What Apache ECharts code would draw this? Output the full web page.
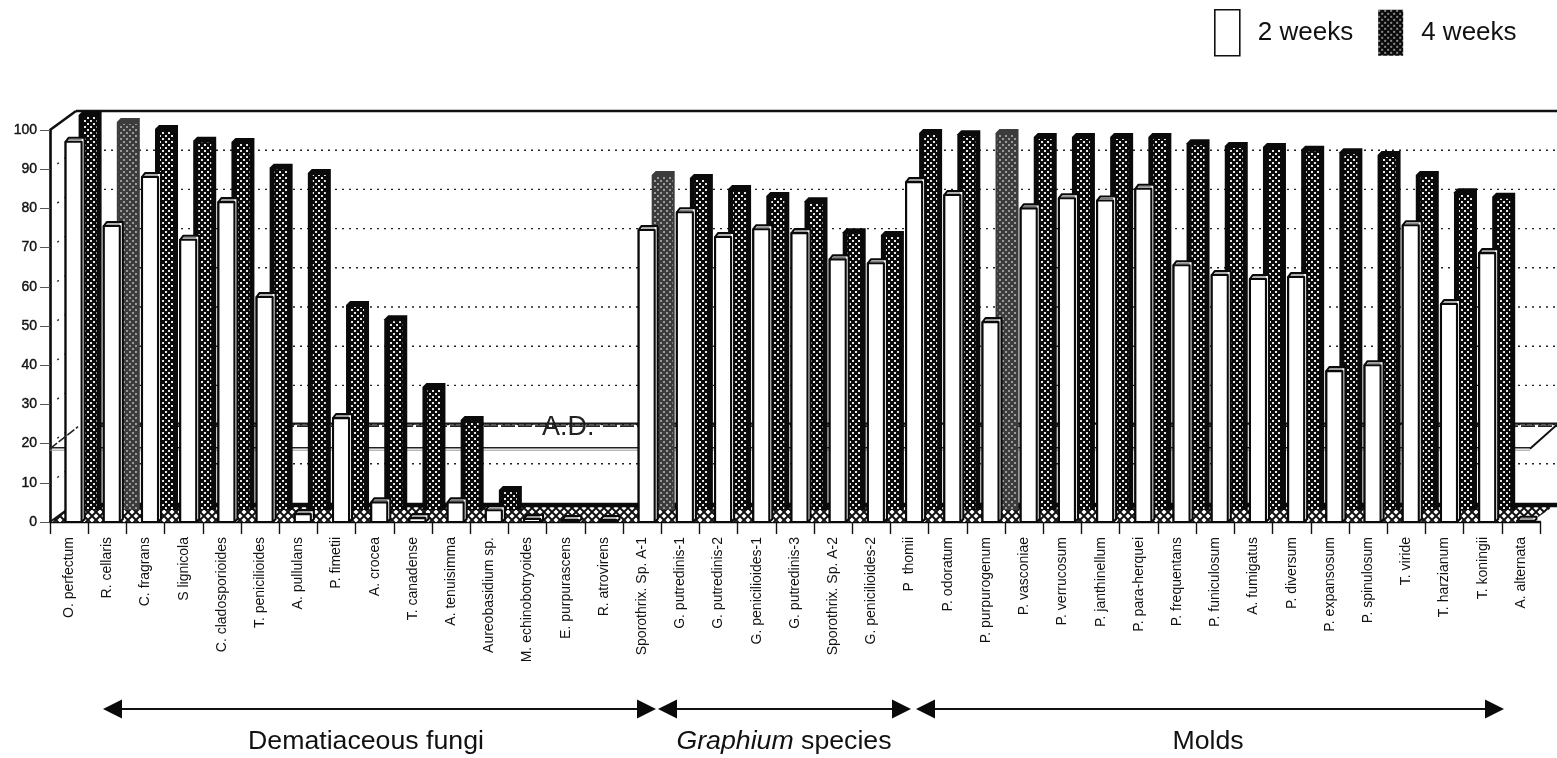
<!DOCTYPE html>
<html><head><meta charset="utf-8">
<style>html,body{margin:0;padding:0;background:#fff}#c{width:1557px;height:758px}</style>
<script src="https://cdn.jsdelivr.net/npm/echarts@6/dist/echarts.min.js"></script>
</head><body><div id="c"></div>
<script>
const categories = ["O. perfectum","R. cellaris","C. fragrans","S lignicola","C. cladosporioides","T. penicilioides","A. pullulans","P. fimetii","A. crocea","T. canadense","A. tenuisimma","Aureobasidium sp.","M. echinobotryoides","E. purpurascens","R. atrovirens","Sporothrix. Sp. A-1","G. putredinis-1","G. putredinis-2","G. penicilioides-1","G. putredinis-3","Sporothrix. Sp. A-2","G. penicilioides-2","P  thomii","P. odoratum","P. purpurogenum","P. vasconiae","P. verrucosum","P. janthinellum","P. para-herquei","P. frequentans","P. funiculosum","A. fumigatus","P. diversum","P. expansosum","P. spinulosum","T. viride","T. harzianum","T. koningii","A. alternata"];
const weeks2 = [97,75.5,88,72,81.6,57.4,2,26.5,5,1,5,3,0.8,0.5,0.5,74.5,79,72.7,74.7,73.7,67,66,86.7,83.4,51,80,82.6,82,85,65.5,63,62,62.5,38.5,40,75.7,55.6,68.6,0.3];
const weeks4 = [101.8,100,98.2,95.2,94.9,88.3,87,53.3,49.7,32.4,24,6.1,0,0,0,86.5,85.7,82.9,81.1,79.8,71.9,71.2,97.2,96.9,97.2,96.2,96.2,96.2,96.2,94.6,93.9,93.6,92.9,92.3,91.6,86.5,82.1,80.9,0];
const grayBars = [1,15,24];
const yTicks = [0,10,20,30,40,50,60,70,80,90,100];
const adLevel = [18.7];
const groups = ["Dematiaceous fungi","Graphium species","Molds"];

function pat(size, bg, draw){
  const c=document.createElement('canvas');c.width=c.height=size;
  const g=c.getContext('2d');g.fillStyle=bg;g.fillRect(0,0,size,size);draw(g);
  return {image:c,repeat:'repeat'};
}
function dots(col){return (g)=>{g.fillStyle=col;g.fillRect(0,0,2,2);g.fillRect(3,3,2,2);};}
const darkPat = pat(6,'#0a0a0a',dots('#e8e8e8'));
const grayPat = pat(6,'#3c3c3c',dots('#9a9a9a'));
const legendPat = pat(6,'#0a0a0a',dots('#8a8a8a'));
const floorPat = pat(8,'#fff',(g)=>{g.strokeStyle='#111';g.lineWidth=2;
  g.beginPath();g.moveTo(0,0);g.lineTo(8,8);g.moveTo(8,0);g.lineTo(0,8);g.stroke();});

const DX=26, DY=19, ADY=24;
const line=(x1,y1,x2,y2,st)=>({type:'line',shape:{x1,y1,x2,y2},style:Object.assign({stroke:'#111',lineWidth:1,fill:null},st||{}),silent:true});
const poly=(points,st)=>({type:'polygon',shape:{points},style:st,silent:true});

function renderFrame(params,api){
  const v=api.value(0);
  const p=api.coord([0,v]);
  const right=params.coordSys.x+params.coordSys.width;
  const x0=params.coordSys.x, endX=1557;
  const ch=[];
  const y=p[1];
  const dot={lineDash:[2,5],lineWidth:1.4,stroke:'#222'};
  if(v===0){
    ch.push(poly([[x0,y],[x0+DX,y-DY+1],[endX,y-DY+1],[right-9,y]],{fill:floorPat,stroke:null}));
    ch.push(line(x0+DX,y-DY+2,endX,y-DY+2,{lineWidth:4.5,stroke:'#0a0a0a'}));
    ch.push(line(x0,y,x0+DX,y-DY,{lineWidth:2,stroke:'#111'}));
  } else if(v===100){
    ch.push(line(x0,y,x0+DX,y-DY,{lineWidth:2.6}));
    ch.push(line(x0+DX,y-DY,endX,y-DY,{lineWidth:2.4}));
  } else {
    ch.push(line(x0+DX,y-DY,endX,y-DY,dot));
    ch.push(line(x0,y,x0+DX,y-DY,{lineDash:[2,7],lineWidth:1.4,stroke:'#222'}));
  }
  return {type:'group',children:ch};
}
function renderAD(params,api){
  const p=api.coord([0,api.value(0)]);
  const x0=params.coordSys.x, right=params.coordSys.x+params.coordSys.width;
  const y=p[1], endX=1557, fx=right-10;
  return {type:'group',children:[
    line(x0,y-1,fx,y-1,{lineWidth:1.6,stroke:'#222'}),
    line(x0,y+1.5,fx,y+1.5,{lineWidth:1,stroke:'#999'}),
    line(x0+DX,y-ADY-1,endX,y-ADY-1,{lineWidth:2.2,stroke:'#1a1a1a'}),
    line(x0+DX,y-ADY+1.5,endX,y-ADY+1.5,{lineWidth:1.8,stroke:'#222',lineDash:[14,3]}),
    line(fx,y,endX,y-ADY,{lineWidth:2,stroke:'#111'})
  ]};
}
function renderAD2(params,api){
  const p=api.coord([0,api.value(0)]);
  const x0=params.coordSys.x,y=p[1];
  return line(x0,y,x0+DX+2,y-ADY+2,{lineWidth:1.6,stroke:'#222',lineDash:[9,2]});
}
function render4(params,api){
  const i=api.value(0),v=api.value(1);
  if(v<=0) return null;
  const p=api.coord([i,v]),b=api.coord([i,0]);
  const L=p[0]+9.5,R=L+23,top=p[1]-12,base=b[1]-12;
  const gray=grayBars.includes(i);
  const edge=gray?'#3c3c3c':'#0a0a0a';
  const ch=[poly([[L,base],[L,top+4],[L+4,top],[R,top],[R,base]],{fill:edge,stroke:null})];
  const fTop=top+6;
  if(base>fTop) ch.push({type:'rect',shape:{x:L+(gray?2:5),y:fTop,width:gray?19:13,height:base-fTop},style:{fill:gray?grayPat:darkPat},silent:true});
  return {type:'group',children:ch};
}
function render2(params,api){
  const i=api.value(0),v=api.value(1);
  const p=api.coord([i,v]),b=api.coord([i,0]);
  const L=p[0]-3.5,W=16,R=L+W,top=p[1],base=b[1];
  const st={fill:'#fff',stroke:'#0a0a0a',lineWidth:2.1,lineJoin:'round'};
  return {type:'group',children:[
    poly([[L,base],[L,top],[L+3,top-4],[R+3,top-4],[R+3,base-3],[R,base]],st),
    {type:'rect',shape:{x:L,y:top,width:W,height:base-top},style:st,silent:true},
    line(L+3,top-2,R,top-2,{lineWidth:1.2,stroke:'#777'})
  ]};
}
function arrow(x1,x2,y){
  const h=19,w=9.5;
  return [
    {type:'line',shape:{x1:x1+5,y1:y,x2:x2-5,y2:y},style:{stroke:'#111',lineWidth:2},silent:true},
    {type:'polygon',shape:{points:[[x1,y],[x1+h,y-w],[x1+h,y+w]]},style:{fill:'#0a0a0a'},silent:true},
    {type:'polygon',shape:{points:[[x2,y],[x2-h,y-w],[x2-h,y+w]]},style:{fill:'#0a0a0a'},silent:true}
  ];
}
const font='"Liberation Sans",Arial,sans-serif';
const chart=echarts.init(document.getElementById('c'),null,{renderer:'canvas'});
chart.setOption({
  animation:false,backgroundColor:'#fff',
  grid:{left:50,right:17,top:130,bottom:236,containLabel:false},
  xAxis:{type:'category',data:categories,boundaryGap:true,
    axisLine:{show:true,lineStyle:{color:'#0a0a0a',width:2.4}},
    axisTick:{show:true,length:12,alignWithLabel:false,lineStyle:{color:'#111',width:1.4}},
    axisLabel:{interval:0,rotate:90,margin:15,fontFamily:font,fontSize:14,color:'#111'}},
  yAxis:{type:'value',min:0,max:100,interval:10,
    axisLine:{show:true,lineStyle:{color:'#0a0a0a',width:2.6}},
    axisTick:{show:true,length:10,lineStyle:{color:'#555',width:1}},
    axisLabel:{margin:13,fontFamily:font,fontSize:14,color:'#111',textBorderColor:'#111',textBorderWidth:0.4},
    splitLine:{show:false}},
  legend:{left:1209,top:4,padding:5,itemWidth:25,itemHeight:46,itemGap:25,icon:'rect',selectedMode:false,
    textStyle:{fontFamily:font,fontSize:26,color:'#111',padding:[7,0,0,13]},
    data:[{name:'2 weeks',itemStyle:{color:'#fff',borderColor:'#111',borderWidth:1.6}},
          {name:'4 weeks',itemStyle:{color:legendPat,borderWidth:0}}]},
  series:[
    {type:'custom',name:'frame',z:1,silent:true,renderItem:renderFrame,encode:{y:0},data:yTicks.map(v=>[v])},
    {type:'custom',name:'ad',z:1,silent:true,renderItem:renderAD,encode:{y:0},data:adLevel.map(v=>[v])},
    {type:'custom',name:'4 weeks',z:3,silent:true,renderItem:render4,encode:{x:0,y:1},data:weeks4.map((v,i)=>[i,v]),itemStyle:{color:legendPat}},
    {type:'custom',name:'2 weeks',z:4,silent:true,renderItem:render2,encode:{x:0,y:1},data:weeks2.map((v,i)=>[i,v]),itemStyle:{color:'#fff',borderColor:'#111'}},
    {type:'custom',name:'ad2',z:5,silent:true,renderItem:renderAD2,encode:{y:0},data:adLevel.map(v=>[v])}
  ],
  graphic:{elements:[
    ...arrow(103,656,709),...arrow(658,911,709),...arrow(916,1504,709),
    {type:'text',x:542,y:428,style:{text:'A.D.',font:'27px '+font,fill:'#222',verticalAlign:'middle'},silent:true},
    {type:'text',x:366,y:742,style:{text:groups[0],font:'26.7px '+font,fill:'#111',align:'center',verticalAlign:'middle'},silent:true},
    {type:'text',x:784,y:742,style:{text:'{i|Graphium} {n|species}',font:'26.7px '+font,align:'center',verticalAlign:'middle',
      rich:{i:{font:'italic 26.7px '+font,fill:'#111'},n:{font:'26.7px '+font,fill:'#111'}}},silent:true},
    {type:'text',x:1208,y:742,style:{text:groups[2],font:'26.7px '+font,fill:'#111',align:'center',verticalAlign:'middle'},silent:true}
  ]}
});
</script></body></html>
